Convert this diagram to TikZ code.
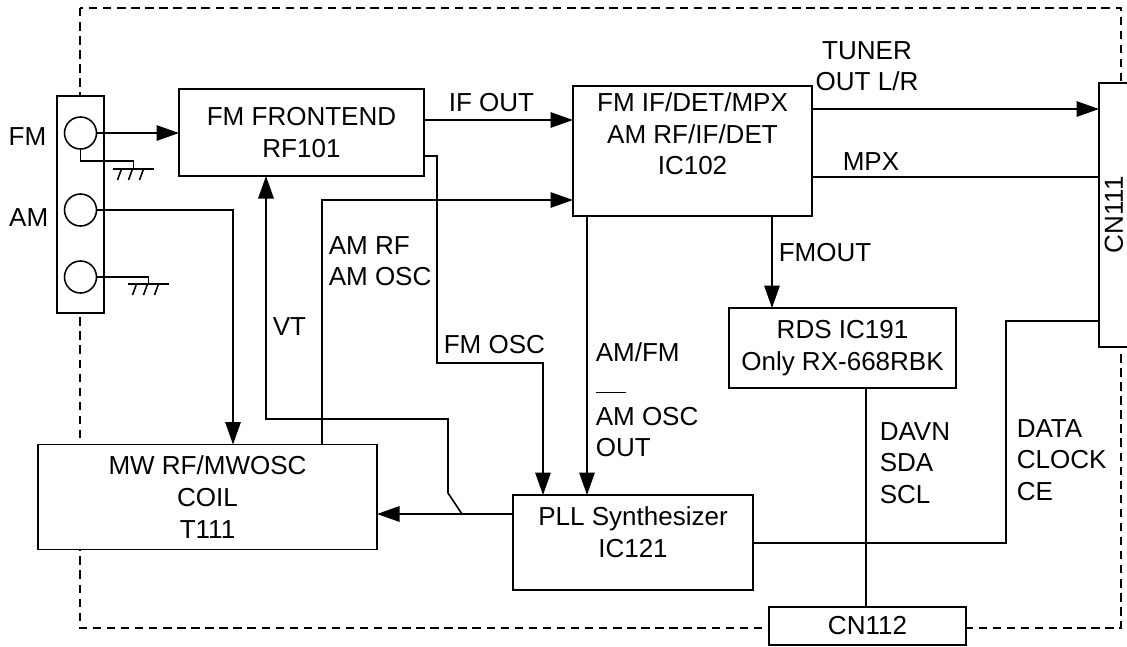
\documentclass[tikz,border=0pt]{standalone}
\usepackage{fontspec}
\setmainfont{Liberation Sans}
\usepackage{tikz}
\usetikzlibrary{arrows.meta, calc}
\tikzset{
  diagram style/.style={
    >={Triangle[length=16pt,width=11pt]}, % filled arrow tip
    line width=1.1pt,                     % default line thickness
  },
  block/.style 2 args={draw, fill=white, inner sep=0pt, outer sep=0pt,
    minimum width=#1*0.025cm, minimum height=#2*0.025cm, align=center},
  jack/.style={draw, circle, minimum size=0.8cm, inner sep=0pt, outer sep=0pt},
  frame/.style={dash pattern=on 6pt off 4pt},
  sig/.style={align=left, inner sep=0pt},
  earth/.pic={
    \draw (-21,0) -- (20,0);
    \foreach \tk in {-12,-1,10} \draw (\tk,0) -- ++(-4,11);
  }
}

\begin{document}
\begin{tikzpicture}[diagram style, x=0.025cm, y=-0.025cm,
    font=\fontsize{18.5}{22.5}\selectfont]
    \useasboundingbox (0,0) rectangle (1127,646);

    % dashed board outline
    \draw[frame] (80,8) rectangle (1121,628);

    % antenna terminal
    \node[block={47}{217}] (antenna) at (80.5,204.5) {};
    \node[jack] (fmjack) at (80.5,133) {};
    \node[jack] (amjack) at (80.5,210) {};
    \node[jack] (gndjack) at (80.5,277) {};
    \node[anchor=east, inner sep=0pt] (fmlbl) at (47,137) {FM};
    \node[anchor=east, inner sep=0pt] (amlbl) at (49,218) {AM};

    % blocks
    \node[block={245}{87}] (frontend) at (301.5,132.5) {FM FRONTEND\\RF101};
    \node[block={239}{130}] (ic102) at (692.5,151) {};
    \node[align=center] (ic102txt) at ($(ic102.center)+(0,-17)$) {FM IF/DET/MPX\\AM RF/IF/DET\\IC102};
    \node[block={339}{105}] (mw) at (207.5,497) {MW RF/MWOSC\\COIL\\T111};
    \node[block={240}{95}] (pll) at (633,542.5) {};
    \node[align=center] (plltxt) at ($(pll.center)+(0,-10)$) {PLL Synthesizer\\IC121};
    \node[block={227}{80}] (rds) at (842.5,348) {RDS IC191\\Only RX-668RBK};
    \node[block={197}{38}] (cn112) at (867.5,626) {CN112};
    \node[block={30}{264}] (cn111) at (1114,215) {\rotatebox{90}{CN111}};

    % antenna inputs
    \draw[->] (fmjack.east) -- (fmjack.east -| frontend.west);
    \draw (fmjack.south) -- ++(0,12) -- ++(53,0) -- ++(0,8) pic {earth};
    \draw[->] (amjack.east) -| ($(mw.north west)+(195,0)$);
    \draw (gndjack.east) -- ++(52,0) -- ++(0,7) pic {earth};

    % front end to IC102 and PLL
    \draw[->] ($(frontend.north east)+(0,31)$) -- ($(ic102.north west)+(0,34)$);
    \draw[->] ($(frontend.south east)+(0,-20)$) -| ($(pll.north west)+(-76,-132)$) -| ($(pll.north west)+(30,0)$);

    % AM RF / AM OSC from the coil
    \draw[->] ($(mw.north west)+(284,0)$) |- ($(ic102.south west)+(0,-16)$);

    % PLL to coil, and VT to front end
    \coordinate (pllout) at ($(pll.north west)+(0,19)$);
    \draw[->] (pllout) -- (pllout -| mw.east);
    \draw[->] ($(pllout)+(-51,0)$) -- ++(-14,-21) -- ++(0,-74) -| ($(frontend.south)+(-35.5,0)$);

    % IC102 outputs
    \draw[->] ($(ic102.south west)+(14,0)$) -- ($(pll.north west)+(74,0)$);
    \draw[->] ($(ic102.south west)+(199,0)$) -- ($(rds.north west)+(43,0)$);
    \draw[->] ($(ic102.north east)+(0,23)$) -- ($(cn111.north west)+(0,26)$);
    \draw ($(ic102.north east)+(0,91)$) -- ($(cn111.north west)+(0,94)$);

    % control buses
    \draw ($(rds.south west)+(137,0)$) -- ($(cn112.north west)+(97,0)$);
    \draw ($(pll.north east)+(0,48)$) -| ($(cn111.south west)+(-93,-26)$) -- ($(cn111.south west)+(0,-26)$);

    % signal labels
    \node[sig, anchor=west] (ifout) at (448,103) {IF OUT};
    \node[align=center, inner sep=0pt] (tuner) at (867,66) {TUNER\\OUT L/R};
    \node[sig, anchor=west] (mpx) at (842,162) {MPX};
    \node[sig, anchor=west] (fmout) at (778,253) {FMOUT};
    \node[sig, anchor=west] (amrf) at (328,261) {AM RF\\AM OSC};
    \node[sig, anchor=west] (vt) at (272,327) {VT};
    \node[sig, anchor=west] (fmosc) at (443,345) {FM OSC};
    \node[sig, anchor=west] (amfm) at (595,400) {AM/FM\\\rule{0.75cm}{1pt}\\AM OSC\\OUT};
    \node[sig, anchor=west] (rdsbus) at (879,463) {DAVN\\SDA\\SCL};
    \node[sig, anchor=west] (databus) at (1016,460) {DATA\\CLOCK\\CE};
\end{tikzpicture}
\end{document}
